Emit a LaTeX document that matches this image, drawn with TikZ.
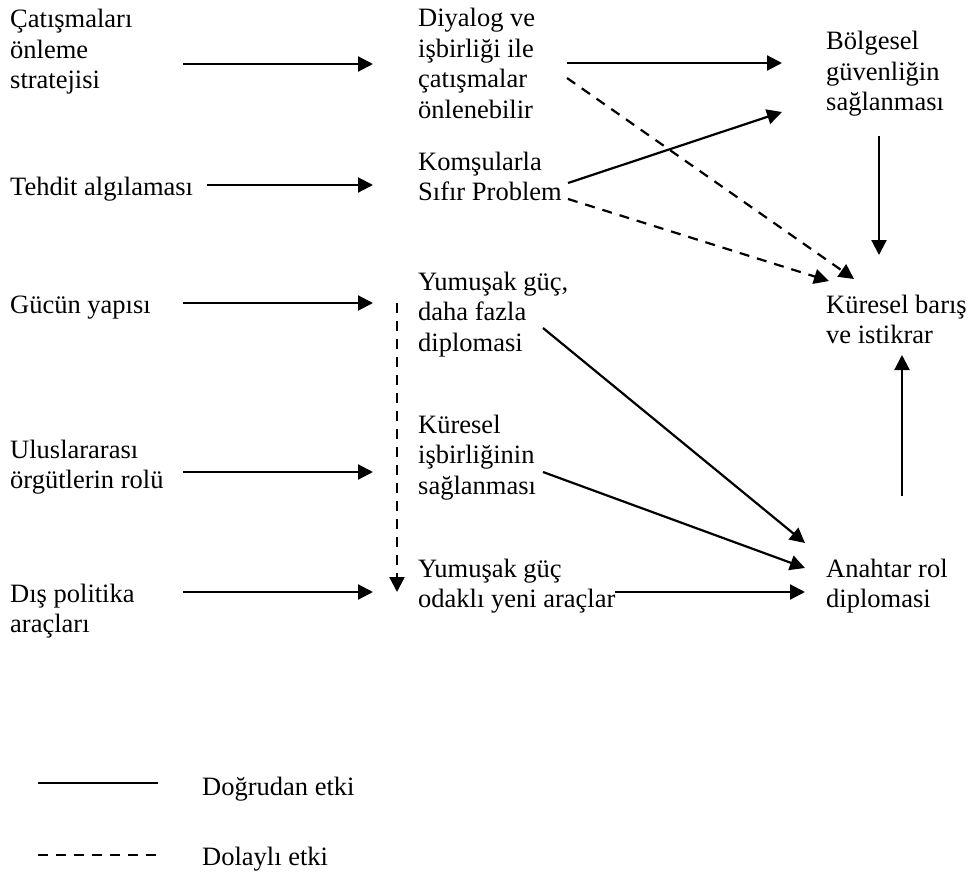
\documentclass[tikz,border=0pt]{standalone}
\usepackage{fontspec}
\setmainfont{Liberation Serif}
\usetikzlibrary{arrows.meta}
\newcommand{\lines}[1]{\begin{tabular}[t]{@{}l@{}}#1\end{tabular}}
\tikzset{
    factor/.style = {
        anchor=base west,
        inner sep=0pt,
        font=\fontsize{26.5}{30.5}\selectfont,
        },
    direct/.style = {
        draw,
        line width=2.2pt,
        },
    indirect/.style = {
        draw,
        line width=2.2pt,
        dash pattern=on 10pt off 8pt,
        },
    pointed/.style = {
        -{Triangle[length=15pt,width=15pt]},
        },
}
\begin{document}
\begin{tikzpicture}[x=1pt,y=-1pt]
            \useasboundingbox (0,0) rectangle (972,875);

            % first column
            \node[factor] (cat) at (10,28) {\lines{Çatışmaları\\önleme\\stratejisi}};
            \node[factor] (teh) at (10,195) {Tehdit algılaması};
            \node[factor] (guc) at (10,313) {Gücün yapısı};
            \node[factor] (ulu) at (10,458) {\lines{Uluslararası\\örgütlerin rolü}};
            \node[factor] (dis) at (10,602) {\lines{Dış politika\\araçları}};

            % second column
            \node[factor] (dia) at (418,27) {\lines{Diyalog ve\\işbirliği ile\\çatışmalar\\önlenebilir}};
            \node[factor] (kom) at (418,170) {\lines{Komşularla\\Sıfır Problem}};
            \node[factor] (yum) at (418,290) {\lines{Yumuşak güç,\\daha fazla\\diplomasi}};
            \node[factor] (kur) at (418,433) {\lines{Küresel\\işbirliğinin\\sağlanması}};
            \node[factor] (ara) at (418,577) {\lines{Yumuşak güç\\odaklı yeni araçlar}};

            % third column
            \node[factor] (bol) at (826,50) {\lines{Bölgesel\\güvenliğin\\sağlanması}};
            \node[factor] (bar) at (826,313) {\lines{Küresel barış\\ve istikrar}};
            \node[factor] (ana) at (826,577) {\lines{Anahtar rol\\diplomasi}};

            % legend
            \node[factor] (dog) at (202,795) {Doğrudan etki};
            \node[factor] (dol) at (202,865) {Dolaylı etki};

            \draw[direct,pointed] ([shift={(173,36)}]cat.base west) -- ([shift={(-45,37)}]dia.base west);
            \draw[direct,pointed] ([shift={(197,-10)}]teh.base west) -- ([shift={(-45,15)}]kom.base west);
            \draw[direct,pointed] ([shift={(173,-10)}]guc.base west) -- ([shift={(-45,13)}]yum.base west);
            \draw[direct,pointed] ([shift={(173,14)}]ulu.base west) -- ([shift={(-45,39)}]kur.base west);
            \draw[direct,pointed] ([shift={(173,-10)}]dis.base west) -- ([shift={(-45,15)}]ara.base west);

            \draw[direct,pointed] ([shift={(149,36)}]dia.base west) -- ([shift={(-44,13)}]bol.base west);
            \draw[direct,pointed] ([shift={(150,13)}]kom.base west) -- ([shift={(-44,62)}]bol.base west);
            \draw[indirect,pointed] ([shift={(149,51)}]dia.base west) -- ([shift={(28,-34)}]bar.base west);
            \draw[indirect,pointed] ([shift={(150,29)}]kom.base west) -- ([shift={(3,-32)}]bar.base west);
            \draw[indirect,pointed] ([shift={(-21,13)}]yum.base west) -- ([shift={(-21,15)}]ara.base west);

            \draw[direct,pointed] ([shift={(125,38)}]yum.base west) -- ([shift={(-21,-34)}]ana.base west);
            \draw[direct,pointed] ([shift={(125,39)}]kur.base west) -- ([shift={(-21,-9)}]ana.base west);
            \draw[direct,pointed] ([shift={(197,15)}]ara.base west) -- ([shift={(-21,15)}]ana.base west);

            \draw[direct,pointed] ([shift={(53,86)}]bol.base west) -- ([shift={(53,-58)}]bar.base west);
            \draw[direct,pointed] ([shift={(76,-81)}]ana.base west) -- ([shift={(76,42)}]bar.base west);

            \draw[direct] ([shift={(-164,-12)}]dog.base west) -- ([shift={(-44,-12)}]dog.base west);
            \draw[indirect] ([shift={(-164,-10)}]dol.base west) -- ([shift={(-44,-10)}]dol.base west);
\end{tikzpicture}
\end{document}
